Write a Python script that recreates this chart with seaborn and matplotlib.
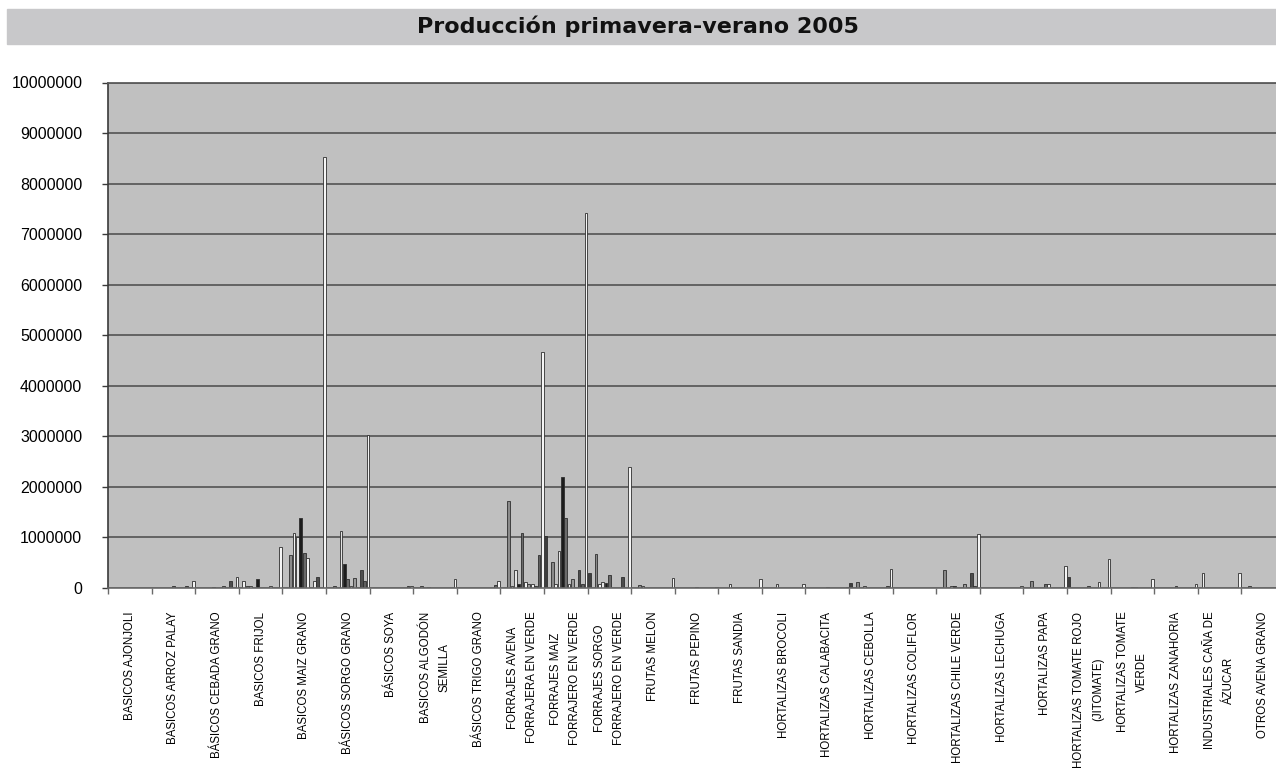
#Producción primavera-verano 2005 - barras agrupadas por cultivo

import pandas as pd
import numpy as np
import seaborn as sns
import matplotlib.pyplot as plt
from matplotlib.patches import Rectangle
from matplotlib.ticker import FuncFormatter, MultipleLocator

# Cultivos (eje x), con salto de línea donde el original parte la etiqueta
cultivos = ['BASICOS AJONJOLI', 'BASICOS ARROZ PALAY', 'BÁSICOS CEBADA GRANO', 'BASICOS FRIJOL',
            'BASICOS MAIZ GRANO', 'BÁSICOS SORGO GRANO', 'BÁSICOS SOYA', 'BASICOS ALGODÓN\nSEMILLA',
            'BÁSICOS TRIGO GRANO', 'FORRAJES AVENA\nFORRAJERA EN VERDE', 'FORRAJES MAIZ\nFORRAJERO EN VERDE',
            'FORRAJES SORGO\nFORRAJERO EN VERDE', 'FRUTAS MELON', 'FRUTAS PEPINO', 'FRUTAS SANDIA',
            'HORTALIZAS BROCOLI', 'HORTALIZAS CALABACITA', 'HORTALIZAS CEBOLLA', 'HORTALIZAS COLIFLOR',
            'HORTALIZAS CHILE VERDE', 'HORTALIZAS LECHUGA', 'HORTALIZAS PAPA',
            'HORTALIZAS TOMATE ROJO\n(JITOMATE)', 'HORTALIZAS TOMATE\nVERDE', 'HORTALIZAS ZANAHORIA',
            'INDUSTRIALES CAÑA DE\nÁZUCAR', 'OTROS AVENA GRANO']

# Producción por serie, en miles de toneladas
s00 = [0, 0, 0, 0, 0, 0, 0, 0, 0, 0, 1030, 300, 0, 0, 0, 0, 0, 100, 0, 0, 0, 0, 220, 0, 0, 0, 0]
s01 = [0, 0, 0, 130, 0, 0, 0, 0, 0, 0, 0, 0, 0, 0, 0, 0, 0, 0, 0, 0, 0, 0, 0, 0, 0, 300, 0]
s02 = [0, 0, 0, 30, 650, 30, 0, 30, 0, 1730, 520, 680, 60, 0, 0, 0, 0, 120, 0, 350, 0, 130, 0, 0, 0, 0, 30]
s03 = [0, 0, 0, 30, 1080, 0, 0, 0, 0, 30, 80, 70, 40, 0, 80, 0, 0, 0, 0, 0, 0, 0, 0, 0, 0, 0, 0]
s04 = [0, 0, 0, 0, 1000, 1120, 0, 20, 0, 350, 740, 120, 0, 0, 0, 80, 0, 30, 0, 40, 0, 0, 0, 0, 0, 0, 0]
s05 = [0, 0, 20, 170, 1380, 470, 0, 0, 0, 80, 2200, 100, 0, 0, 0, 0, 0, 0, 0, 40, 0, 0, 0, 0, 0, 0, 0]
s06 = [0, 30, 0, 0, 700, 170, 0, 0, 0, 1080, 1380, 260, 0, 10, 0, 0, 10, 0, 0, 0, 0, 80, 30, 20, 30, 0, 0]
s07 = [0, 0, 0, 0, 600, 30, 0, 0, 0, 120, 80, 0, 0, 0, 0, 0, 0, 0, 0, 0, 0, 80, 0, 10, 0, 0, 0]
s08 = [0, 0, 30, 0, 0, 200, 0, 0, 0, 80, 170, 0, 0, 0, 0, 0, 0, 0, 0, 80, 0, 0, 0, 0, 0, 0, 0]
s09 = [0, 0, 0, 30, 130, 0, 0, 0, 0, 80, 0, 0, 0, 0, 0, 0, 0, 0, 0, 0, 0, 0, 120, 0, 0, 0, 0]
s10 = [0, 30, 140, 0, 220, 350, 0, 0, 0, 40, 350, 210, 0, 0, 0, 0, 0, 0, 0, 300, 0, 0, 0, 0, 0, 0, 0]
s11 = [0, 0, 0, 0, 0, 130, 30, 0, 60, 650, 80, 0, 0, 0, 0, 0, 0, 30, 0, 40, 0, 0, 0, 0, 0, 0, 0]
total = [8, 140, 210, 820, 8530, 3030, 30, 170, 130, 4670, 7420, 2400, 200, 10, 170, 80, 20, 380, 5, 1070,
         40, 430, 570, 170, 70, 300, 0]

series = [s00, s01, s02, s03, s04, s05, s06, s07, s08, s09, s10, s11, total]
nombres = ['S%02d' % i for i in range(12)] + ['TOTAL']
colores = ['#3e3e3e', '#f2f2f2', '#8a8a8a', '#f2f2f2', '#e4e4e4', '#1c1c1c', '#6a6a6a',
           '#f2f2f2', '#9a9a9a', '#f0f0f0', '#4d4d4d', '#5f5f5f', '#f5f5f5']

# tabla larga para seaborn
filas = []
for nombre, vals in zip(nombres, series):
    for c, v in zip(cultivos, vals):
        filas.append((c, nombre, v * 1000))
df = pd.DataFrame(filas, columns=['cultivo', 'serie', 'valor'])

plt.rcParams['font.family'] = ['Liberation Sans', 'DejaVu Sans']

fig = plt.figure(figsize=(12.76, 7.70), dpi=100)

# banda gris del título
fig.patches.append(Rectangle((7/1276, (770-44)/770), 1, 35/770, transform=fig.transFigure,
                             color='#c8c8ca', zorder=0))
fig.text(0.5, (770-26.5)/770, 'Producción primavera-verano 2005', ha='center', va='center',
         fontsize=16, fontweight='bold', family='DejaVu Sans', color='#111111')

ax = fig.add_axes([108/1276, 182/770, (1285-108)/1276, (588-82.5)/770])
ax.set_facecolor('#c0c0c0')

sns.barplot(data=df, x='cultivo', y='valor', hue='serie', order=cultivos, hue_order=nombres,
            palette=dict(zip(nombres, colores)), width=1.0, gap=0.2, dodge=True,
            edgecolor='#2e2e2e', linewidth=0.6, errorbar=None, legend=False, ax=ax)

ax.set_xlim(-0.5, len(cultivos) - 0.5)
ax.set_ylim(0, 10000000)
ax.yaxis.set_major_locator(MultipleLocator(1000000))
ax.yaxis.set_major_formatter(FuncFormatter(lambda v, p: '%d' % v))
ax.yaxis.grid(True, color='#5c5c5c', linewidth=1.3)
ax.set_axisbelow(True)
ax.set_xlabel('')
ax.set_ylabel('')

ax.spines['right'].set_visible(False)
ax.spines['top'].set_color('#5c5c5c')
ax.spines['top'].set_linewidth(1.3)
ax.spines['left'].set_color('#3a3a3a')
ax.spines['left'].set_linewidth(1.2)
ax.spines['bottom'].set_color('#6a6a6a')
ax.spines['bottom'].set_linewidth(1.2)

ax.tick_params(axis='y', length=4.5, width=1, color='#3a3a3a', pad=14, labelsize=11.5)
ax.set_xticks(np.arange(-0.5, len(cultivos), 1), minor=True)
ax.tick_params(axis='x', which='minor', length=4, width=1, color='#6a6a6a')
ax.tick_params(axis='x', which='major', length=0, pad=17)
ax.set_xticks(range(len(cultivos)))
ax.set_xticklabels(cultivos, rotation=90, fontsize=8.3, ha='center', va='top',
                   linespacing=1.75, multialignment='center')

plt.savefig('out.png', dpi=100)
